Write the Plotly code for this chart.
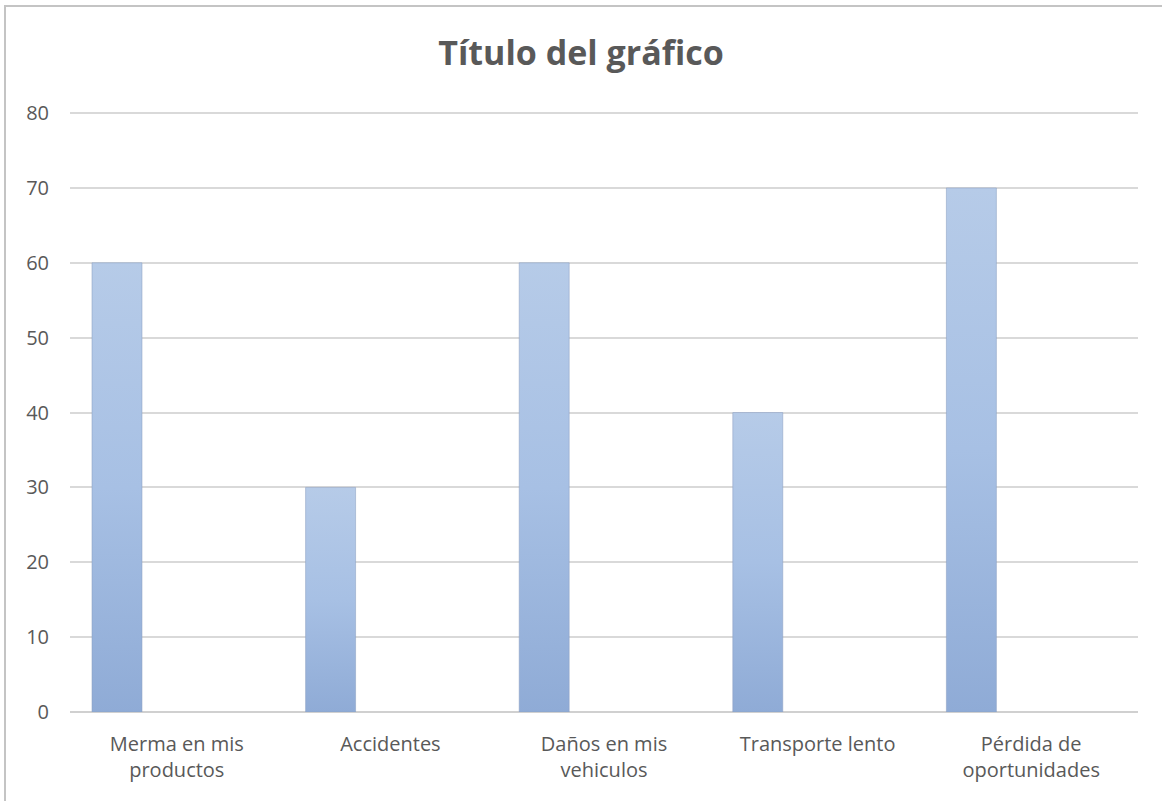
import plotly.graph_objects as go

# Chart data
categories = ["Merma en mis<br>productos", "Accidentes", "Daños en mis<br>vehiculos",
              "Transporte lento", "Pérdida de<br>oportunidades"]
values = [60, 30, 60, 40, 70]
y_ticks = [0, 10, 20, 30, 40, 50, 60, 70, 80]

# Bar geometry in category units (bars sit to the left of each slot)
BAR_OFFSET = -0.397
BAR_WIDTH = 0.234

W, H = 1162, 801
ML, MR, MT, MB = 70, 24, 112, 89
TEXT = "#595959"
FONT = "Open Sans"
GRID = "#d9d9d9"

fig = go.Figure()

# Each bar is a filled polygon so it can carry a vertical gradient
for i, v in enumerate(values):
    x0 = i + BAR_OFFSET
    x1 = x0 + BAR_WIDTH
    fig.add_trace(go.Scatter(
        x=[x0, x1, x1, x0, x0],
        y=[0, 0, v, v, 0],
        mode="lines",
        line=dict(width=1, color="rgba(140,160,195,0.55)"),
        fill="toself",
        fillgradient=dict(
            type="vertical",
            start=0,
            stop=v,
            colorscale=[[0, "#8fabd6"], [0.5, "#a7c0e4"], [1, "#b6cbe8"]],
        ),
        hoverinfo="skip",
        showlegend=False,
    ))

px_w = W - ML - MR
px_h = H - MT - MB


def px_to_paper_x(px):
    return (px - ML) / px_w


def px_to_paper_y(py):
    return (H - MB - py) / px_h


fig.update_layout(
    width=W,
    height=H,
    margin=dict(l=ML, r=MR, t=MT, b=MB),
    paper_bgcolor="white",
    plot_bgcolor="white",
    showlegend=False,
    title=dict(
        text="<b>Título del gráfico</b>",
        x=0.5,
        xanchor="center",
        y=1 - 53 / H,
        yanchor="middle",
        font=dict(family=FONT, size=34, color=TEXT),
    ),
    xaxis=dict(
        range=[-0.5, len(categories) - 0.5],
        tickmode="array",
        tickvals=list(range(len(categories))),
        ticktext=categories,
        showgrid=False,
        zeroline=False,
        showline=False,
        ticks="",
        ticklabelstandoff=18,
        tickfont=dict(family=FONT, size=20, color=TEXT),
        fixedrange=True,
    ),
    yaxis=dict(
        range=[0, 80.15],
        tickmode="array",
        tickvals=y_ticks,
        showgrid=True,
        gridcolor=GRID,
        gridwidth=1.5,
        zeroline=True,
        zerolinecolor="#d0d0d0",
        zerolinewidth=2,
        showline=False,
        ticks="",
        ticklabelstandoff=20,
        tickfont=dict(family=FONT, size=20, color=TEXT),
        fixedrange=True,
    ),
    shapes=[
        dict(
            type="rect",
            xref="paper", yref="paper",
            x0=px_to_paper_x(5), x1=px_to_paper_x(W + 10),
            y0=px_to_paper_y(H + 10), y1=px_to_paper_y(6),
            line=dict(color="#c4c4c4", width=2),
            fillcolor="rgba(0,0,0,0)",
            layer="below",
        )
    ],
)

fig.write_html("out.html")
